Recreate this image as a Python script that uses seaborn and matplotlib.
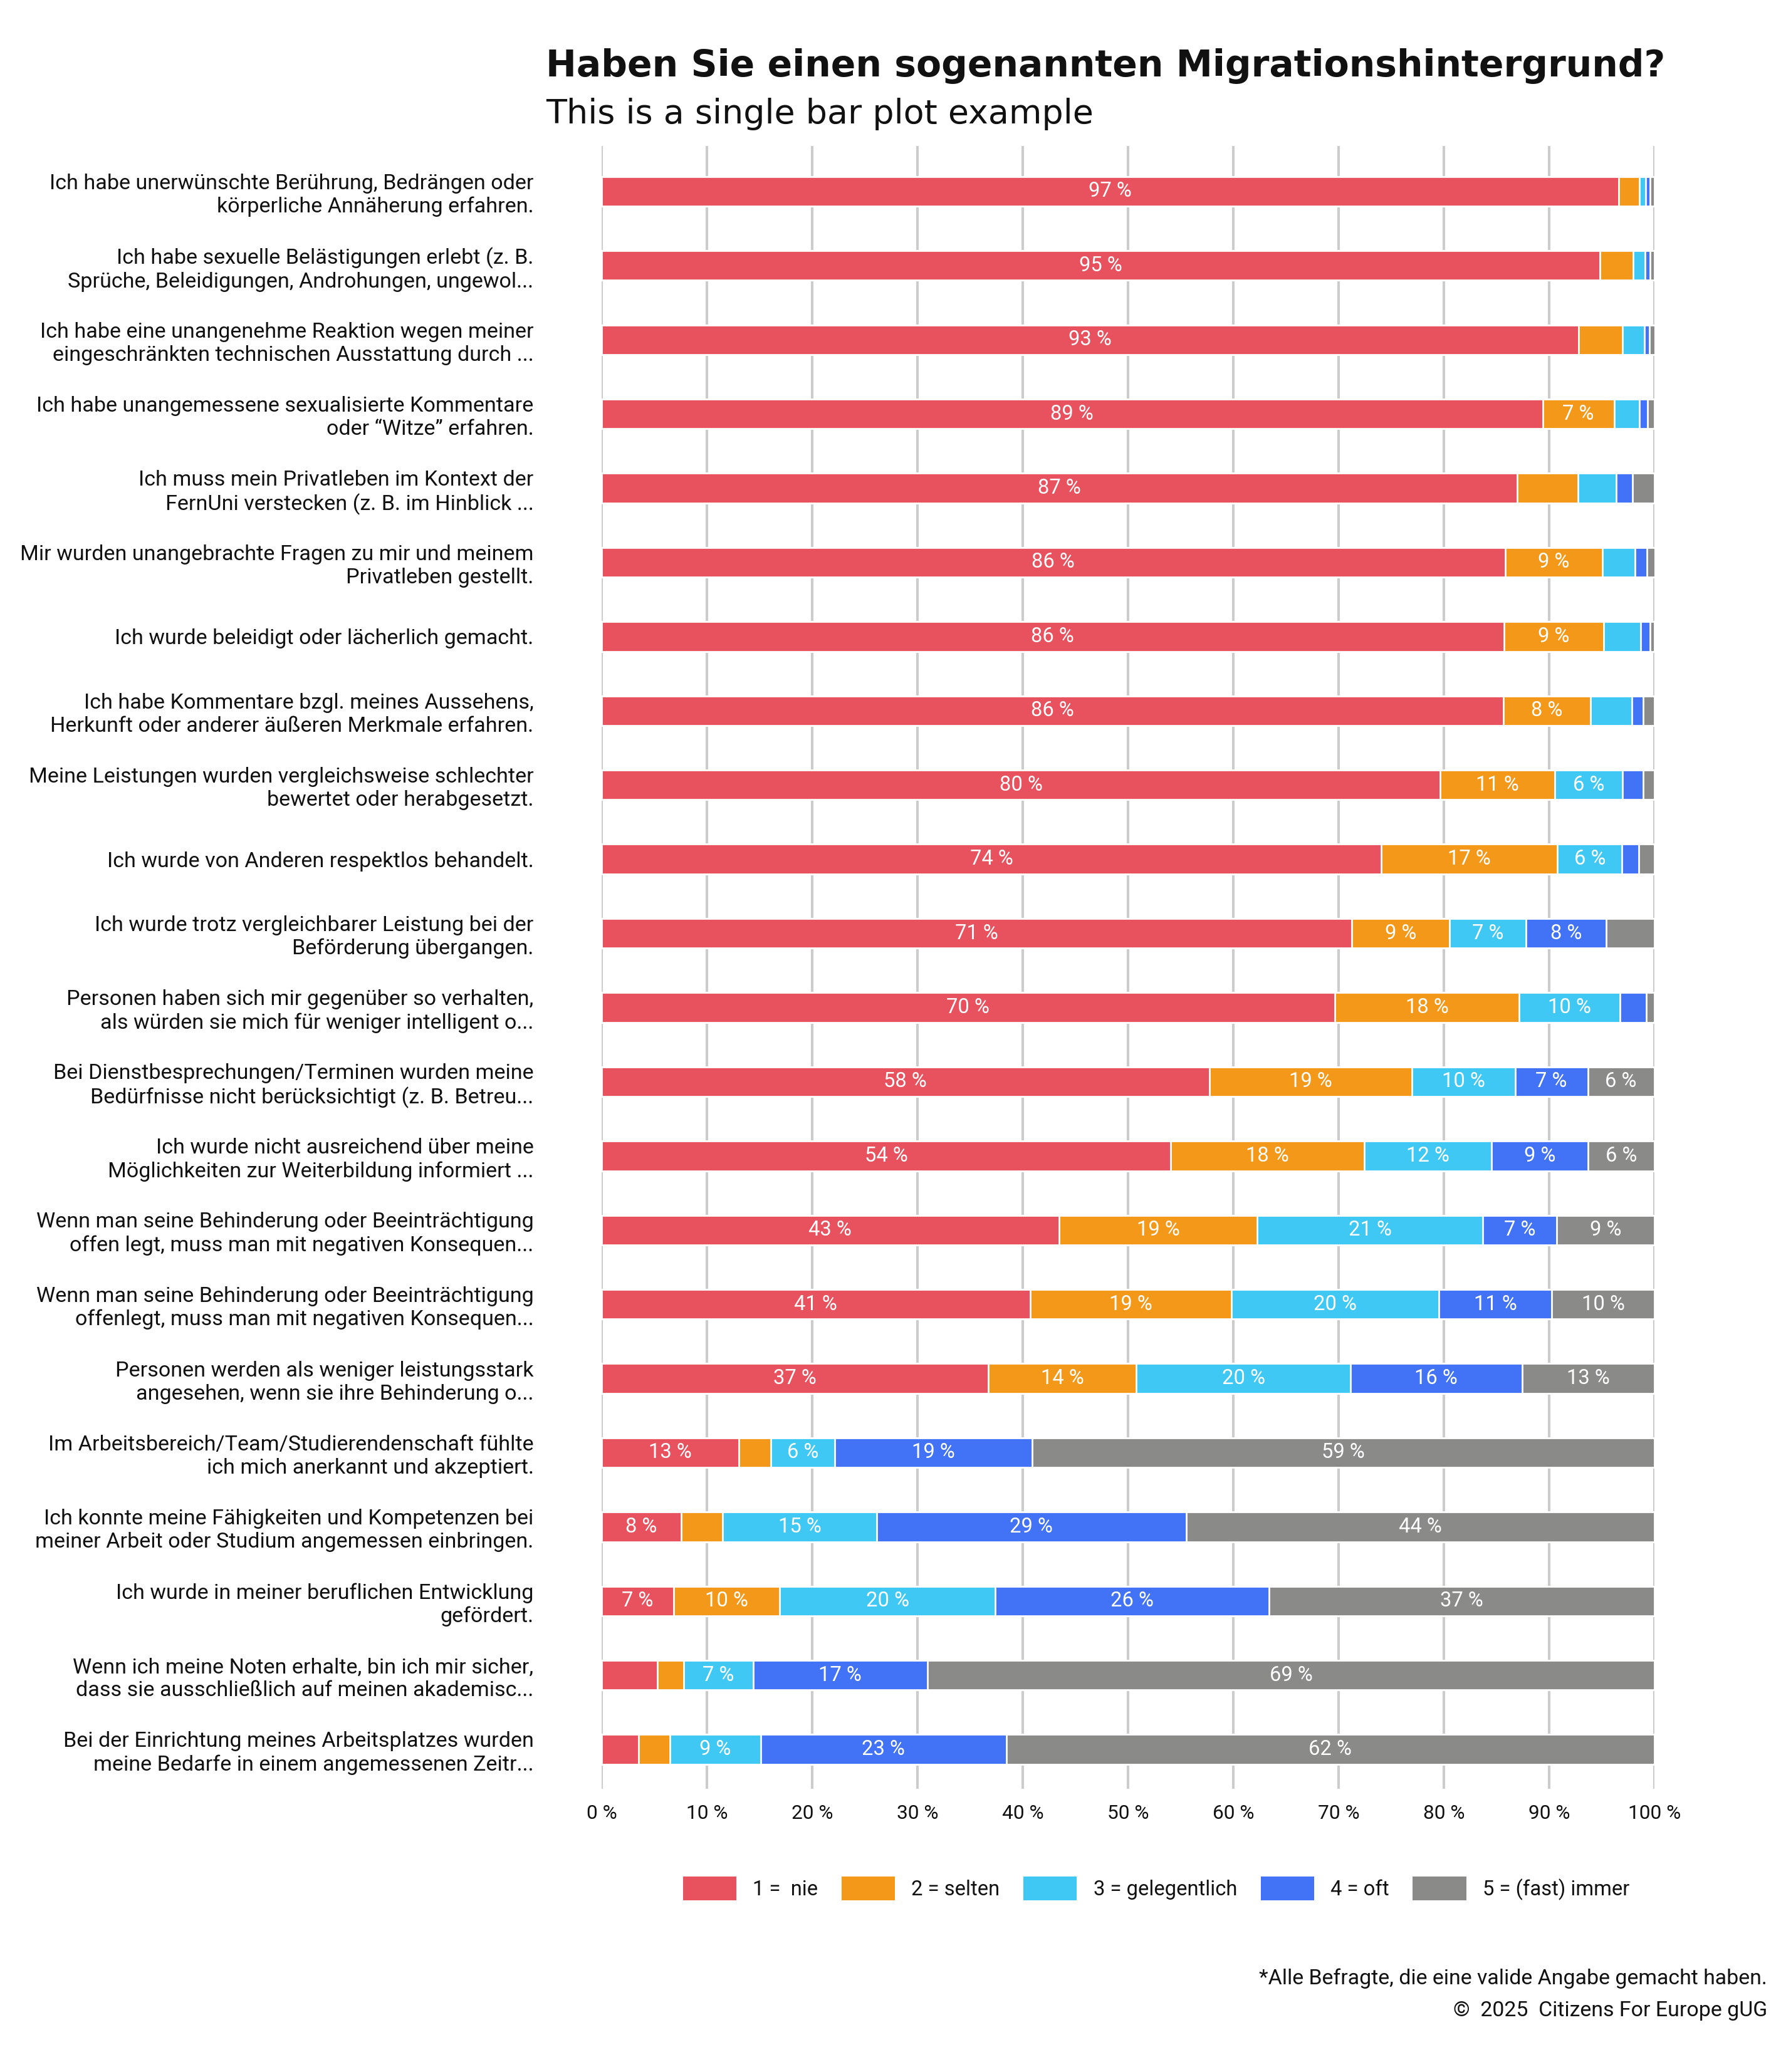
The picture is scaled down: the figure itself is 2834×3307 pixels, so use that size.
import numpy as np
import pandas as pd
import matplotlib.pyplot as plt
import seaborn as sns
from matplotlib.patches import Patch

# ===============================
# DATA
# ===============================
items = [
    "Ich habe unerwünschte Berührung, Bedrängen oder\nkörperliche Annäherung erfahren.",
    "Ich habe sexuelle Belästigungen erlebt (z. B.\nSprüche, Beleidigungen, Androhungen, ungewol...",
    "Ich habe eine unangenehme Reaktion wegen meiner\neingeschränkten technischen Ausstattung durch ...",
    "Ich habe unangemessene sexualisierte Kommentare\noder “Witze” erfahren.",
    "Ich muss mein Privatleben im Kontext der\nFernUni verstecken (z. B. im Hinblick ...",
    "Mir wurden unangebrachte Fragen zu mir und meinem\nPrivatleben gestellt.",
    "Ich wurde beleidigt oder lächerlich gemacht.",
    "Ich habe Kommentare bzgl. meines Aussehens,\nHerkunft oder anderer äußeren Merkmale erfahren.",
    "Meine Leistungen wurden vergleichsweise schlechter\nbewertet oder herabgesetzt.",
    "Ich wurde von Anderen respektlos behandelt.",
    "Ich wurde trotz vergleichbarer Leistung bei der\nBeförderung übergangen.",
    "Personen haben sich mir gegenüber so verhalten,\nals würden sie mich für weniger intelligent o...",
    "Bei Dienstbesprechungen/Terminen wurden meine\nBedürfnisse nicht berücksichtigt (z. B. Betreu...",
    "Ich wurde nicht ausreichend über meine\nMöglichkeiten zur Weiterbildung informiert ...",
    "Wenn man seine Behinderung oder Beeinträchtigung\noffen legt, muss man mit negativen Konsequen...",
    "Wenn man seine Behinderung oder Beeinträchtigung\noffenlegt, muss man mit negativen Konsequen...",
    "Personen werden als weniger leistungsstark\nangesehen, wenn sie ihre Behinderung o...",
    "Im Arbeitsbereich/Team/Studierendenschaft fühlte\nich mich anerkannt und akzeptiert.",
    "Ich konnte meine Fähigkeiten und Kompetenzen bei\nmeiner Arbeit oder Studium angemessen einbringen.",
    "Ich wurde in meiner beruflichen Entwicklung\ngefördert.",
    "Wenn ich meine Noten erhalte, bin ich mir sicher,\ndass sie ausschließlich auf meinen akademisc...",
    "Bei der Einrichtung meines Arbeitsplatzes wurden\nmeine Bedarfe in einem angemessenen Zeitr...",
]

levels = ["1 =  nie", "2 = selten", "3 = gelegentlich", "4 = oft", "5 = (fast) immer"]
colors = ["#E8525E", "#F39819", "#40C8F4", "#4272F5", "#8A8A88"]

nie = [96.6, 94.84, 92.8, 89.4, 87.0, 85.83, 85.7, 85.67, 79.67, 74.07, 71.27,
       69.64, 57.72, 54.07, 43.45, 40.7, 36.74, 13.06, 7.55, 6.84, 5.28, 3.52]
selten = [2.0, 3.15, 4.2, 6.77, 5.77, 9.23, 9.46, 8.27, 10.88, 16.74, 9.25,
          17.52, 19.28, 18.37, 18.83, 19.15, 14.07, 3.03, 3.97, 10.1, 2.54, 3.0]
gelegentlich = [0.6, 1.13, 2.04, 2.4, 3.63, 3.1, 3.51, 3.9, 6.45, 6.12, 7.3,
                9.58, 9.77, 12.12, 21.43, 19.67, 20.33, 6.06, 14.6, 20.46, 6.58, 8.6]
oft = [0.4, 0.46, 0.48, 0.77, 1.55, 1.13, 0.95, 1.1, 1.95, 1.56, 7.62,
       2.48, 6.9, 9.12, 7.04, 10.75, 16.29, 18.76, 29.4, 26.0, 16.55, 23.32]
immer = [0.4, 0.42, 0.52, 0.69, 2.06, 0.75, 0.4, 1.04, 1.04, 1.5, 4.56,
         0.78, 6.32, 6.32, 9.25, 9.73, 12.57, 59.1, 44.48, 36.6, 69.06, 61.56]

df = pd.DataFrame({"item": items, levels[0]: nie, levels[1]: selten, levels[2]: gelegentlich,
                   levels[3]: oft, levels[4]: immer})
cum = df[levels].cumsum(axis=1)

# ===============================
# STYLE
# ===============================
sns.set_theme(style="white")
plt.rcParams["font.family"] = ["Roboto", "DejaVu Sans"]
plt.rcParams["text.color"] = "#111111"

fig = plt.figure(figsize=(14.17, 16.535), dpi=200)
ax = fig.add_axes([0.3387, 0.1367, 0.5928, 0.7928])

# stacked bars: draw cumulative totals from the back to the front
for lvl, col in reversed(list(zip(levels, colors))):
    sns.barplot(x=cum[lvl], y=df["item"], orient="h", color=col, saturation=1,
                width=0.4, ax=ax, zorder=3)

# segment labels
for i in range(len(df)):
    left = 0
    for lvl in levels:
        v = df.loc[i, lvl]
        if v >= 6:
            ax.text(left + v / 2, i, f"{int(v + 0.5)} %", ha="center", va="center",
                    color="white", fontsize=11.8, zorder=4)
        left += v

ax.set_xlim(0, 100)
ax.set_ylim(21.53, -0.61)
ax.set_xticks(np.arange(0, 101, 10))
ax.set_xticklabels([f"{t} %" for t in range(0, 101, 10)])
ax.set_xlabel("")
ax.set_ylabel("")
ax.grid(axis="x", color="#cccccc", lw=1.5, zorder=0)
ax.set_axisbelow(True)
for s in ax.spines.values():
    s.set_visible(False)
ax.tick_params(axis="y", length=0, pad=39, labelsize=12.3, labelcolor="#111111")
ax.tick_params(axis="x", length=0, pad=9, labelsize=11.4, labelcolor="#111111")
for lab in ax.get_yticklabels():
    lab.set_linespacing(1.2)

# ===============================
# TITLES / LEGEND / NOTES
# ===============================
fig.text(0.3073, 0.968, "Haben Sie einen sogenannten Migrationshintergrund?",
         fontsize=21, fontweight="bold", va="center", ha="left",
         family=["DejaVu Sans"], color="#111111")
fig.text(0.3073, 0.945, "This is a single bar plot example",
         fontsize=19.4, va="center", ha="left", family=["DejaVu Sans"], color="#111111")

handles = [Patch(facecolor=c, edgecolor="none", label=l) for l, c in zip(levels, colors)]
fig.legend(handles=handles, ncol=5, loc="center", bbox_to_anchor=(0.651, 0.0886),
           frameon=False, fontsize=11.8, handlelength=2.6, handleheight=1.45,
           handletextpad=0.8, columnspacing=1.15)

fig.text(0.9951, 0.0451, "*Alle Befragte, die eine valide Angabe gemacht haben.",
         ha="right", va="center", fontsize=12.2)
fig.text(0.9951, 0.0297, "©  2025  Citizens For Europe gUG",
         ha="right", va="center", fontsize=12.2)

plt.savefig("out.png", dpi=200)
plt.close()
